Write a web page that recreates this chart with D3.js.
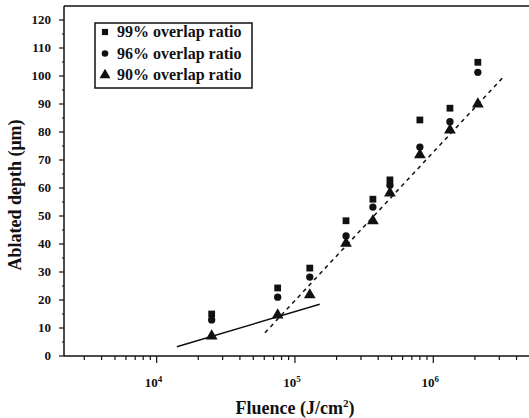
<!DOCTYPE html>
<html>
<head>
<meta charset="utf-8">
<script src="https://cdn.jsdelivr.net/npm/d3@7"></script>
<style>
  body { margin: 0; background: #fff; }
  svg { display: block; }
</style>
</head>
<body>
<svg id="chart" width="529" height="418"></svg>
<script>
// data
const fluence = [2.5e4, 7.5e4, 1.28e5, 2.34e5, 3.66e5, 4.86e5, 8.0e5, 1.32e6, 2.1e6]
const depth99 = [15, 24.3, 31.4, 48.3, 56, 62.9, 84.3, 88.5, 104.9]
const depth96 = [12.9, 21, 28.2, 42.9, 53.2, 61, 74.6, 83.7, 101.3]
const depth90 = [7.1, 14.6, 21.8, 40.2, 48.3, 58.2, 71.8, 80.7, 90]
const seriesNames = ['99% overlap ratio', '96% overlap ratio', '90% overlap ratio']
const yTicks = [0, 10, 20, 30, 40, 50, 60, 70, 80, 90, 100, 110, 120]
const xMajor = [1e4, 1e5, 1e6]
// fitted lines: [fluence, depth] end points
const fitLow = [[1.4e4, 3.3], [1.51e5, 18.5]]
const fitHigh = [[6.07e4, 8.3], [3.19e6, 99.5]]

const svg = d3.select('#chart')
const plotLeft = 64, plotRight = 529, plotTop = 6, plotBottom = 356

const x = d3.scaleLog().domain([2140, 4.92e6]).range([plotLeft, plotRight])
const y = d3.scaleLinear().domain([0, 125]).range([plotBottom, plotTop])

const ink = '#111'
const serif = '"Liberation Serif", "Times New Roman", serif'

// frame: top line
svg.append('line')
    .attr('x1', plotLeft).attr('x2', plotRight)
    .attr('y1', plotTop).attr('y2', plotTop)
    .attr('stroke', ink).attr('stroke-width', 1.5)

// x axis
svg.append('line')
    .attr('x1', plotLeft).attr('x2', plotRight)
    .attr('y1', plotBottom).attr('y2', plotBottom)
    .attr('stroke', ink).attr('stroke-width', 1.5)

const xTicks = x.ticks().filter(t => t >= x.domain()[0] && t <= x.domain()[1])
svg.selectAll('.xtick')
    .data(xTicks)
    .enter()
    .append('line')
    .attr('x1', d => x(d)).attr('x2', d => x(d))
    .attr('y1', plotBottom)
    .attr('y2', d => plotBottom + (xMajor.includes(d) ? 7 : 4))
    .attr('stroke', ink).attr('stroke-width', 1.2)

const xl = svg.selectAll('.xlabel')
    .data(xMajor)
    .enter()
    .append('text')
    .attr('x', d => x(d) - 3)
    .attr('y', 387)
    .attr('text-anchor', 'middle')
    .attr('font-family', serif)
    .attr('font-weight', 'bold')
    .attr('font-size', '13px')
    .attr('fill', ink)
xl.append('tspan').text('10')
xl.append('tspan')
    .attr('dy', -5)
    .attr('font-size', '9px')
    .text(d => Math.round(Math.log10(d)))

// y axis
svg.append('line')
    .attr('x1', plotLeft).attr('x2', plotLeft)
    .attr('y1', plotTop).attr('y2', plotBottom)
    .attr('stroke', ink).attr('stroke-width', 1.5)

svg.selectAll('.ytick')
    .data(d3.range(0, 125, 5))
    .enter()
    .append('line')
    .attr('x1', plotLeft)
    .attr('x2', d => plotLeft - (d % 10 === 0 ? 5 : 2))
    .attr('y1', d => y(d)).attr('y2', d => y(d))
    .attr('stroke', ink).attr('stroke-width', 1.2)

svg.selectAll('.ylabel')
    .data(yTicks)
    .enter()
    .append('text')
    .attr('x', plotLeft - 13)
    .attr('y', d => y(d) + 4)
    .attr('text-anchor', 'end')
    .attr('font-family', serif)
    .attr('font-weight', 'bold')
    .attr('font-size', '13px')
    .attr('fill', ink)
    .text(d => d)

// axis titles
const xt = svg.append('text')
    .attr('x', 295)
    .attr('y', 414)
    .attr('text-anchor', 'middle')
    .attr('font-family', serif)
    .attr('font-weight', 'bold')
    .attr('font-size', '18px')
    .attr('fill', ink)
xt.append('tspan').text('Fluence (J/cm')
xt.append('tspan').attr('dy', -7).attr('font-size', '11px').text('2')
xt.append('tspan').attr('dy', 7).text(')')

svg.append('text')
    .attr('transform', 'translate(21,' + 195 + ') rotate(-90)')
    .attr('text-anchor', 'middle')
    .attr('font-family', serif)
    .attr('font-weight', 'bold')
    .attr('font-size', '18px')
    .attr('fill', ink)
    .text('Ablated depth (\u03bcm)')

// fit lines
const line = d3.line().x(d => x(d[0])).y(d => y(d[1]))
svg.append('path')
    .attr('d', line(fitLow))
    .attr('fill', 'none').attr('stroke', ink).attr('stroke-width', 1.5)
svg.append('path')
    .attr('d', line(fitHigh))
    .attr('fill', 'none').attr('stroke', ink).attr('stroke-width', 1.5)
    .attr('stroke-dasharray', '4,4')

// markers
const symbols = [d3.symbolSquare, d3.symbolCircle, d3.symbolTriangle]
const sizes = [46, 42, 60]
const allSeries = [depth99, depth96, depth90]

allSeries.forEach((vals, s) => {
    svg.selectAll('.pt' + s)
        .data(vals)
        .enter()
        .append('path')
        .attr('d', d3.symbol().type(symbols[s]).size(sizes[s]))
        .attr('transform', (d, i) => 'translate(' + x(fluence[i]) + ',' + y(d) + ')')
        .attr('fill', ink)
})

// legend
const lg = svg.append('g').attr('transform', 'translate(95,23)')
lg.append('rect')
    .attr('width', 157).attr('height', 65)
    .attr('fill', '#fff').attr('stroke', ink).attr('stroke-width', 1.5)
seriesNames.forEach((name, s) => {
    const cy = 9 + s * 21.5
    lg.append('path')
        .attr('d', d3.symbol().type(symbols[s]).size(sizes[s] - 8))
        .attr('transform', 'translate(10,' + cy + ')')
        .attr('fill', ink)
    lg.append('text')
        .attr('x', 22)
        .attr('y', cy + 5)
        .attr('font-family', serif)
        .attr('font-weight', 'bold')
        .attr('font-size', '16px')
        .attr('fill', ink)
        .text(name)
})
</script>
</body>
</html>
